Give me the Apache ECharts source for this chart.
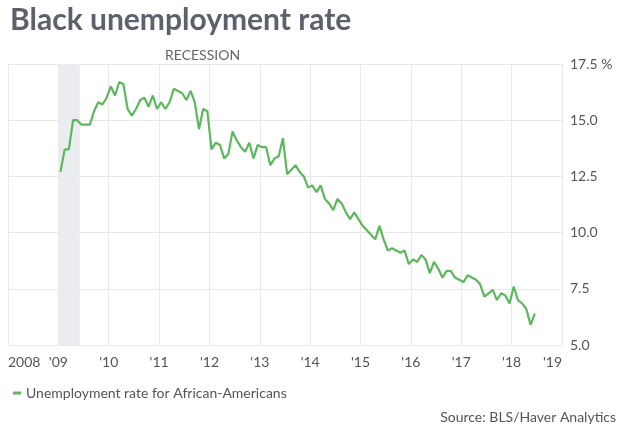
<!DOCTYPE html>
<html><head><meta charset="utf-8">
<script src="https://cdn.jsdelivr.net/npm/echarts@6/dist/echarts.min.js"></script>
<style>html,body{margin:0;padding:0;background:#fff}#c{width:620px;height:428px}</style>
</head><body><div id="c"></div>
<script>
const titleText = 'Black unemployment rate';
const seriesName = 'Unemployment rate for African-Americans';
const sourceText = 'Source: BLS/Haver Analytics';
const recessionLabel = 'RECESSION';
const firstYear = 2009;            // data starts January 2009, monthly
const recessionMonths = [0, 5];    // Jan 2009 .. Jun 2009 (month index from start)
const xYears = [2008, 2009, 2010, 2011, 2012, 2013, 2014, 2015, 2016, 2017, 2018, 2019];
const xLabels = ['2008', "'09", "'10", "'11", "'12", "'13", "'14", "'15", "'16", "'17", "'18", "'19"];
const yTicks = [5, 7.5, 10, 12.5, 15, 17.5];
const yLabels = ['5.0', '7.5', '10.0', '12.5', '15.0', '17.5 %'];

const rate2009 = [12.7, 13.7, 13.7, 15.0, 15.0, 14.8, 14.8, 14.8, 15.4, 15.8, 15.7, 16.0];
const rate2010 = [16.5, 16.1, 16.7, 16.6, 15.5, 15.2, 15.5, 15.9, 16.0, 15.6, 16.1, 15.5];
const rate2011 = [15.8, 15.5, 15.8, 16.4, 16.3, 16.2, 15.9, 16.3, 15.8, 14.6, 15.5, 15.4];
const rate2012 = [13.7, 14.0, 13.9, 13.3, 13.5, 14.5, 14.1, 13.8, 13.6, 14.0, 13.3, 13.9];
const rate2013 = [13.8, 13.8, 13.0, 13.3, 13.4, 14.2, 12.6, 12.8, 13.0, 12.7, 12.5, 12.0];
const rate2014 = [12.1, 11.8, 12.1, 11.5, 11.3, 11.0, 11.5, 11.3, 10.9, 10.6, 10.9, 10.6];
const rate2015 = [10.3, 10.1, 9.9, 9.7, 10.3, 9.7, 9.2, 9.3, 9.2, 9.1, 9.2, 8.6];
const rate2016 = [8.8, 8.7, 9.0, 8.8, 8.2, 8.7, 8.4, 8.0, 8.3, 8.3, 8.0, 7.9];
const rate2017 = [7.8, 8.1, 8.0, 7.9, 7.7, 7.15, 7.3, 7.45, 7.0, 7.3, 7.2, 6.85];
const rate2018 = [7.6, 7.0, 6.85, 6.6, 5.9, 6.4];

const rates = [].concat(rate2009, rate2010, rate2011, rate2012, rate2013, rate2014, rate2015, rate2016, rate2017, rate2018);
const monthPos = i => firstYear + (i + 0.5) / 12;
const seriesData = rates.map((v, i) => [monthPos(i), v]);
const recStart = firstYear + recessionMonths[0] / 12;
const recEnd = firstYear + (recessionMonths[1] + 0.1) / 12;

const FONT = 'Lato';
const chart = echarts.init(document.getElementById('c'), null, {renderer: 'canvas'});
chart.setOption({
  animation: false,
  backgroundColor: '#ffffff',
  textStyle: {fontFamily: FONT},
  title: {
    text: titleText, left: 5, top: 0,
    textStyle: {fontFamily: FONT, fontSize: 30, fontWeight: 'bold', color: '#5d616c'}
  },
  legend: {
    left: 8, top: 381, itemWidth: 8, itemHeight: 3, itemGap: 6,
    icon: 'rect',
    data: [seriesName],
    textStyle: {fontFamily: FONT, fontSize: 14, color: '#555'}
  },
  graphic: [
    {type: 'text', left: 165, top: 48, style: {text: recessionLabel, font: '14px Lato', fill: '#666'}},
    {type: 'text', right: 4, top: 410, style: {text: sourceText, font: '14px Lato', fill: '#555'}}
  ],
  grid: {left: 8, right: 58, top: 64, bottom: 83},
  xAxis: {
    type: 'value', min: xYears[0], max: xYears[xYears.length - 1], interval: 1,
    axisLine: {show: false}, axisTick: {show: false},
    splitLine: {show: true, lineStyle: {color: '#e8e8e8', width: 1}},
    axisLabel: {
      margin: 10, color: '#555', fontSize: 14, fontFamily: FONT,
      alignMinLabel: 'left', alignMaxLabel: 'right',
      formatter: v => { const k = xYears.indexOf(Math.round(v)); return k >= 0 ? xLabels[k] : ''; }
    }
  },
  yAxis: {
    type: 'value', position: 'right', min: yTicks[0], max: yTicks[yTicks.length - 1], interval: 2.5,
    axisLine: {show: false}, axisTick: {show: false},
    splitLine: {show: true, lineStyle: {color: '#e8e8e8', width: 1}},
    axisLabel: {
      margin: 8, color: '#555', fontSize: 14, fontFamily: FONT, align: 'left',
      formatter: v => { const k = yTicks.indexOf(v); return k >= 0 ? yLabels[k] : ''; }
    }
  },
  series: [{
    name: seriesName, type: 'line', data: seriesData, showSymbol: false, symbol: 'none',
    lineStyle: {color: '#5cb85c', width: 2.2}, itemStyle: {color: '#5cb85c'},
    markArea: {
      silent: true,
      itemStyle: {color: '#ebecef'},
      data: [[{xAxis: recStart}, {xAxis: recEnd}]]
    },
    z: 3
  }]
});
</script></body></html>
